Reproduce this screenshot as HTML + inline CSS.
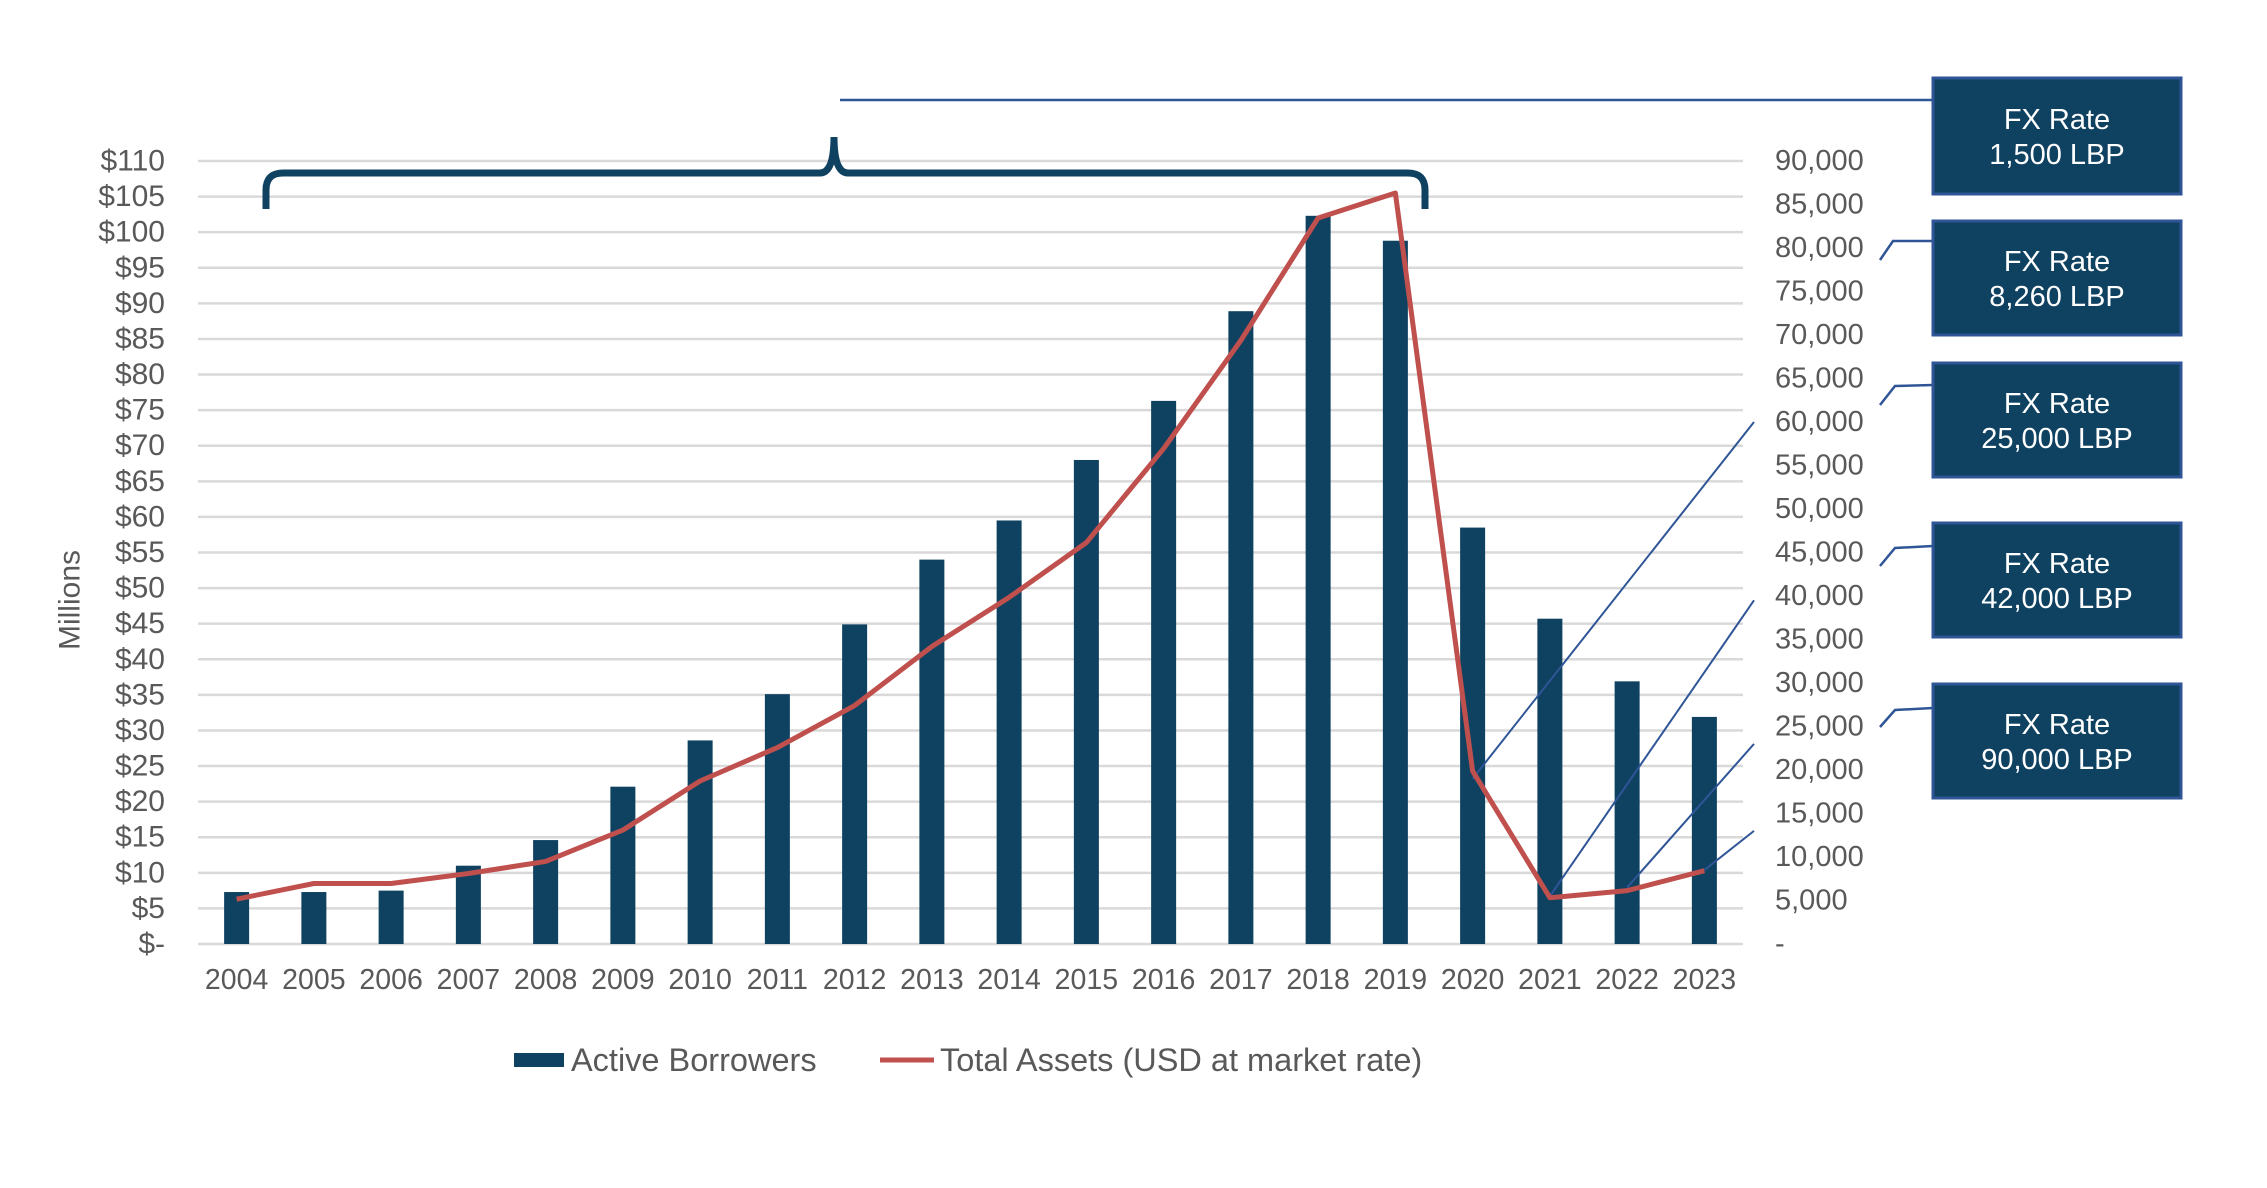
<!DOCTYPE html>
<html><head><meta charset="utf-8"><style>
html,body{margin:0;padding:0;background:#fff;}
svg{display:block;font-family:"Liberation Sans",Arial,sans-serif;}
</style></head><body>
<svg id="chart" width="2267" height="1188" viewBox="0 0 2267 1188">
<g id="grid"></g>
<g id="bars"></g>
<g id="ann"></g>
<g id="line"></g>
<g id="axes"></g>
<text x="70" y="600" transform="rotate(-90 70 600)" text-anchor="middle" dominant-baseline="central" font-size="30" fill="#595959">Millions</text>
<path d="M266,209 L266,190 Q266,173 283,173 L820,173 Q834,173 834,137 Q834,173 848,173 L1408,173 Q1425,173 1425,190 L1425,209" fill="none" stroke="#0f4161" stroke-width="7"/>
<line x1="840" y1="100" x2="1933" y2="100" stroke="#2f5597" stroke-width="2.5"/>
<polyline points="1933,241 1893,241 1880,260" fill="none" stroke="#2f5597" stroke-width="2.5"/>
<polyline points="1933,385 1895,386 1880,405" fill="none" stroke="#2f5597" stroke-width="2.5"/>
<polyline points="1933,546 1895,548 1880,566" fill="none" stroke="#2f5597" stroke-width="2.5"/>
<polyline points="1933,708 1895,710 1880,727" fill="none" stroke="#2f5597" stroke-width="2.5"/>
<g><rect x="1933" y="78" width="248" height="116" fill="#0f4161" stroke="#2f5597" stroke-width="3"/><text x="2057" y="129" text-anchor="middle" font-size="29" fill="#fff">FX Rate</text><text x="2057" y="164" text-anchor="middle" font-size="29" fill="#fff">1,500 LBP</text></g>
<g><rect x="1933" y="221" width="248" height="114" fill="#0f4161" stroke="#2f5597" stroke-width="3"/><text x="2057" y="271" text-anchor="middle" font-size="29" fill="#fff">FX Rate</text><text x="2057" y="306" text-anchor="middle" font-size="29" fill="#fff">8,260 LBP</text></g>
<g><rect x="1933" y="363" width="248" height="114" fill="#0f4161" stroke="#2f5597" stroke-width="3"/><text x="2057" y="413" text-anchor="middle" font-size="29" fill="#fff">FX Rate</text><text x="2057" y="448" text-anchor="middle" font-size="29" fill="#fff">25,000 LBP</text></g>
<g><rect x="1933" y="523" width="248" height="114" fill="#0f4161" stroke="#2f5597" stroke-width="3"/><text x="2057" y="573" text-anchor="middle" font-size="29" fill="#fff">FX Rate</text><text x="2057" y="608" text-anchor="middle" font-size="29" fill="#fff">42,000 LBP</text></g>
<g><rect x="1933" y="684" width="248" height="114" fill="#0f4161" stroke="#2f5597" stroke-width="3"/><text x="2057" y="734" text-anchor="middle" font-size="29" fill="#fff">FX Rate</text><text x="2057" y="769" text-anchor="middle" font-size="29" fill="#fff">90,000 LBP</text></g>
<g>
<rect x="514" y="1053" width="50" height="14" fill="#0f4161"/>
<text x="571" y="1071" font-size="32.5" fill="#595959">Active Borrowers</text>
<line x1="880" y1="1060" x2="934" y2="1060" stroke="#c0504d" stroke-width="5"/>
<text x="940" y="1071" font-size="32.5" fill="#595959">Total Assets (USD at market rate)</text>
</g>
</svg>
<script>
const years = ["2004","2005","2006","2007","2008","2009","2010","2011","2012","2013","2014","2015","2016","2017","2018","2019","2020","2021","2022","2023"];
const activeBorrowers = [7.3,7.3,7.5,11,14.6,22.1,28.6,35.1,44.9,54,59.5,68,76.3,88.9,102.3,98.8,58.5,45.7,36.9,31.9];
const totalAssets = [6.3,8.5,8.5,9.9,11.6,16,22.9,27.6,33.5,41.8,48.7,56.4,69.6,84.8,102,105.5,24.3,6.5,7.5,10.3];
const leftTicks = [0,5,10,15,20,25,30,35,40,45,50,55,60,65,70,75,80,85,90,95,100,105,110];
const rightTicks = [0,5000,10000,15000,20000,25000,30000,35000,40000,45000,50000,55000,60000,65000,70000,75000,80000,85000,90000];
const fxLineStartYear = ["2020","2021","2022","2023"];
const fxLineStartValue = [19000,5500,6500,8500];
const fxLineEndValue = [60000,39500,23000,13000];

const NS="http://www.w3.org/2000/svg";
const L=198,R=1743,T=161,B=944;
const band=(R-L)/years.length;
const xc=i=>L+band*(i+0.5);
const yL=v=>B-(v/110)*(B-T);
const yR=v=>B-(v/90000)*(B-T);
function mk(tag,attrs,parent){const e=document.createElementNS(NS,tag);for(const k in attrs)e.setAttribute(k,attrs[k]);parent.appendChild(e);return e;}
const grid=document.getElementById('grid'),axes=document.getElementById('axes'),bars=document.getElementById('bars'),lineG=document.getElementById('line'),ann=document.getElementById('ann');
leftTicks.forEach(v=>{
  const g=mk('line',{x1:L,x2:R,y1:yL(v),y2:yL(v),stroke:'#d9d9d9','stroke-width':2.5},grid);
  
  
  const t=mk('text',{x:165,y:yL(v),'text-anchor':'end','dominant-baseline':'central','font-size':30,fill:'#595959'},axes);
  t.textContent=v===0?'$-':'$'+v;
  
  
});
rightTicks.forEach(v=>{
  const t=mk('text',{x:1775,y:yR(v),'dominant-baseline':'central','font-size':29,fill:'#595959'},axes);
  t.textContent=v===0?'-':v.toLocaleString('en-US');
  
  
});
years.forEach((y,i)=>{
  const t=mk('text',{x:xc(i),y:980,'text-anchor':'middle','dominant-baseline':'central','font-size':28.5,fill:'#595959'},axes);
  t.textContent=y;
  
  
  const b=mk('rect',{x:xc(i)-12.5,y:yL(activeBorrowers[i]),width:25,height:B-yL(activeBorrowers[i]),fill:'#0f4161'},bars);
  
  
});
fxLineStartYear.forEach((y,k)=>{
  const i=years.indexOf(y);
  const l=mk('line',{x1:xc(i),y1:yR(fxLineStartValue[k]),x2:1754,y2:yR(fxLineEndValue[k]),stroke:'#2f5597','stroke-width':2},ann);
  
  
});
const p=mk('polyline',{points:totalAssets.map((v,i)=>xc(i)+','+yL(v)).join(' '),fill:'none',stroke:'#c0504d','stroke-width':5,'stroke-linejoin':'round'},lineG);


</script>
</body></html>
